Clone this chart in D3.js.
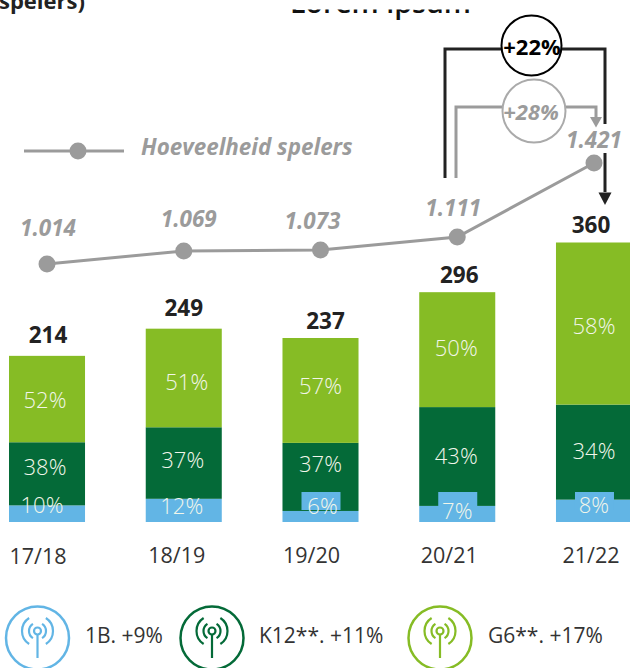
<!DOCTYPE html>
<html>
<head>
<meta charset="utf-8">
<script src="https://cdn.jsdelivr.net/npm/d3@7"></script>
<style>
  html, body { margin: 0; padding: 0; background: #fff; }
  svg { display: block; font-family: "Open Sans", sans-serif; }
</style>
</head>
<body>
<script>
const seasons = ["17/18", "18/19", "19/20", "20/21", "21/22"];
const totals = [214, 249, 237, 296, 360];
const players = [1014, 1069, 1073, 1111, 1421];
const playerLabels = ["1.014", "1.069", "1.073", "1.111", "1.421"];
// share of each segment in a bar, in percent
const share1B = [10, 12, 6, 7, 8];
const shareK12 = [38, 37, 37, 43, 34];
const shareG6 = [52, 51, 57, 50, 58];

const seriesKeys = ["1B", "K12", "G6"];
const seriesColors = ["#62b5e5", "#046a38", "#86bc25"];
const legendLabels = ["1B. +9%", "K12**. +11%", "G6**. +17%"];

// hand placed label nudges, the original labels do not sit on the segment centres
const pctDx = [[-5, -2, -2], [-2, -1, 3], [2, 0, 0], [0, -1, -1], [0, 0, 0]];
const pctDy = [[-0.7, 1.1, 8.9], [3.6, 5, 12], [-2.5, -5, 3.6], [5, 7.5, 6.4], [2.2, 7, 10.5]];
const seasonDx = [-9, -7, -9, -8, -3];
const seasonDy = [1, 0, 0, 0, 0];
const totalDx = [1, 0, 5, 2, -3];
const totalDy = [-13, -13, -9, -9, -9.5];
const playerDx = [1, 5, -8, -4, 0];
const playerDy = [-28, -24, -21, -21, -15];

const width = 630, height = 668;
const grey = "#9b9b9b", dark = "#222";

const svg = d3.select("body").append("svg").attr("width", width).attr("height", height);

const x = d3.scaleBand().domain(seasons).range([9, 632]).paddingInner(0.444);
const y = d3.scaleLinear().domain([0, 360]).range([522, 242.5]);
// the line in the original is not drawn to a straight scale
const yPlayers = d3.scaleLinear().domain([1014, 1073, 1111, 1421]).range([264, 250, 237, 163]);

const table = seasons.map((s, i) => ({
  season: s,
  "1B": totals[i] * share1B[i] / 100,
  K12: totals[i] * shareK12[i] / 100,
  G6: totals[i] * shareG6[i] / 100
}));
const stacked = d3.stack().keys(seriesKeys)(table);

// header texts, only their lower edge is left in the picture
svg.append("clipPath").attr("id", "top-clip")
  .append("rect").attr("x", 0).attr("y", 9.5).attr("width", width).attr("height", 20);
svg.append("text").attr("x", -1).attr("y", 8.5)
  .attr("font-size", 22).attr("font-weight", 700).attr("fill", dark).text("spelers)");
svg.append("text").attr("x", 290).attr("y", 12.5).attr("clip-path", "url(#top-clip)")
  .attr("font-size", 28.5).attr("font-weight", 600).attr("fill", "#111").text("Lorem ipsum");

// stacked bars
svg.selectAll("g.series").data(stacked).enter().append("g")
  .attr("class", "series")
  .attr("fill", (d, i) => seriesColors[i])
  .selectAll("rect").data(d => d).enter().append("rect")
  .attr("x", d => x(d.data.season))
  .attr("y", d => y(d[1]))
  .attr("width", x.bandwidth())
  .attr("height", d => y(d[0]) - y(d[1]));

// blue patches behind the small labels of the last three bars
svg.selectAll("rect.patch").data(seasons.slice(2)).enter().append("rect")
  .attr("class", "patch")
  .attr("x", d => x(d) + x.bandwidth() / 2 - 19)
  .attr("y", 492)
  .attr("width", 39)
  .attr("height", 18)
  .attr("fill", seriesColors[0]);

// percent labels
stacked.forEach((layer, k) => {
  svg.selectAll("text.pct" + k).data(layer).enter().append("text")
    .attr("class", "pct" + k)
    .attr("x", (d, i) => x(d.data.season) + x.bandwidth() / 2 + pctDx[i][k])
    .attr("y", (d, i) => (y(d[0]) + y(d[1])) / 2 + pctDy[i][k])
    .attr("text-anchor", "middle")
    .attr("font-size", 22)
    .attr("font-weight", 300)
    .attr("fill", "#f2f6ea")
    .text((d, i) => [share1B, shareK12, shareG6][k][i] + "%");
});

// totals above the bars
svg.selectAll("text.total").data(totals).enter().append("text")
  .attr("class", "total")
  .attr("x", (d, i) => x(seasons[i]) + x.bandwidth() / 2 + totalDx[i])
  .attr("y", (d, i) => y(d) + totalDy[i])
  .attr("text-anchor", "middle")
  .attr("font-size", 22.5)
  .attr("font-weight", 700)
  .attr("fill", dark)
  .text(d => d);

// season axis
const xAxis = d3.axisBottom(x).tickSize(0);
const axisG = svg.append("g").attr("transform", "translate(0,563)").call(xAxis);
axisG.select(".domain").remove();
axisG.selectAll("text")
  .attr("y", (d, i) => seasonDy[i]).attr("dy", 0)
  .attr("dx", (d, i) => seasonDx[i])
  .attr("font-family", "'Open Sans', sans-serif")
  .attr("font-size", 21.5)
  .attr("fill", "#333");

// black bracket +22%
svg.append("path")
  .attr("d", "M445,178V49H605V192")
  .attr("fill", "none").attr("stroke", dark).attr("stroke-width", 3);
svg.append("path").attr("d", "M598.5,192.5H611.5L605,205Z").attr("fill", dark);

// white block that breaks the black line around the 1.421 label
svg.append("rect").attr("x", 565).attr("y", 124).attr("width", 62).attr("height", 29).attr("fill", "#fff");

// grey bracket +28%
svg.append("path")
  .attr("d", "M456,178V107H596V118")
  .attr("fill", "none").attr("stroke", grey).attr("stroke-width", 3);
svg.append("path").attr("d", "M590,117H602L596,127.5Z").attr("fill", grey);

svg.append("circle").attr("cx", 531.5).attr("cy", 45.5).attr("r", 30)
  .attr("fill", "#fff").attr("stroke", "#000").attr("stroke-width", 2);
svg.append("text").attr("x", 532).attr("y", 55).attr("text-anchor", "middle")
  .attr("font-size", 22).attr("font-weight", 700).attr("fill", "#000").text("+22%");

svg.append("circle").attr("cx", 534).attr("cy", 111).attr("r", 31.5)
  .attr("fill", "#fff").attr("stroke", "#aaa").attr("stroke-width", 2);
svg.append("text").attr("x", 531).attr("y", 120).attr("text-anchor", "middle")
  .attr("font-size", 22).attr("font-weight", 700).attr("font-style", "italic")
  .attr("fill", grey).text("+28%");

// players line
const line = d3.line().x((d, i) => x(seasons[i]) + x.bandwidth() / 2).y(d => yPlayers(d));
svg.append("path").datum(players)
  .attr("d", line)
  .attr("fill", "none").attr("stroke", grey).attr("stroke-width", 3);
svg.selectAll("circle.pt").data(players).enter().append("circle")
  .attr("class", "pt")
  .attr("cx", (d, i) => x(seasons[i]) + x.bandwidth() / 2)
  .attr("cy", d => yPlayers(d))
  .attr("r", 8.5)
  .attr("fill", grey);
svg.selectAll("text.pl").data(players).enter().append("text")
  .attr("class", "pl")
  .attr("x", (d, i) => x(seasons[i]) + x.bandwidth() / 2 + playerDx[i])
  .attr("y", (d, i) => yPlayers(d) + playerDy[i])
  .attr("text-anchor", "middle")
  .attr("font-size", 22.5)
  .attr("font-weight", 700)
  .attr("font-style", "italic")
  .attr("fill", grey)
  .text((d, i) => playerLabels[i]);

// line legend
svg.append("line").attr("x1", 24).attr("x2", 124).attr("y1", 151).attr("y2", 151)
  .attr("stroke", grey).attr("stroke-width", 3);
svg.append("circle").attr("cx", 78).attr("cy", 151).attr("r", 8.5).attr("fill", grey);
svg.append("text").attr("x", 141).attr("y", 155)
  .attr("font-size", 22.4).attr("font-weight", 700).attr("font-style", "italic")
  .attr("fill", grey).text("Hoeveelheid spelers");

// bottom legend with antenna icons
const legendX = [37.5, 212, 440];
const legendTextX = [85, 259, 488];
const arc = d3.arc();
const wave = (r, side) => arc({
  innerRadius: r, outerRadius: r,
  startAngle: side * (Math.PI / 2 - 1),
  endAngle: side * (Math.PI / 2 + 1)
});
seriesKeys.forEach((key, i) => {
  const g = svg.append("g")
    .attr("transform", `translate(${legendX[i]},638)`)
    .attr("fill", "none")
    .attr("stroke", seriesColors[i]);
  g.append("circle").attr("r", 31.5).attr("stroke-width", 2.5);
  const icon = g.append("g").attr("transform", "translate(0,-7)").attr("stroke-width", 2.2);
  icon.append("circle").attr("r", 3.5);
  icon.append("line").attr("y1", 3.5).attr("y2", 27);
  [8.5, 15.5].forEach(r => {
    icon.append("path").attr("d", wave(r, 1));
    icon.append("path").attr("d", wave(r, -1));
  });
  svg.append("text").attr("x", legendTextX[i]).attr("y", 643)
    .attr("font-size", 21).attr("fill", "#333").text(legendLabels[i]);
});
</script>
</body>
</html>
